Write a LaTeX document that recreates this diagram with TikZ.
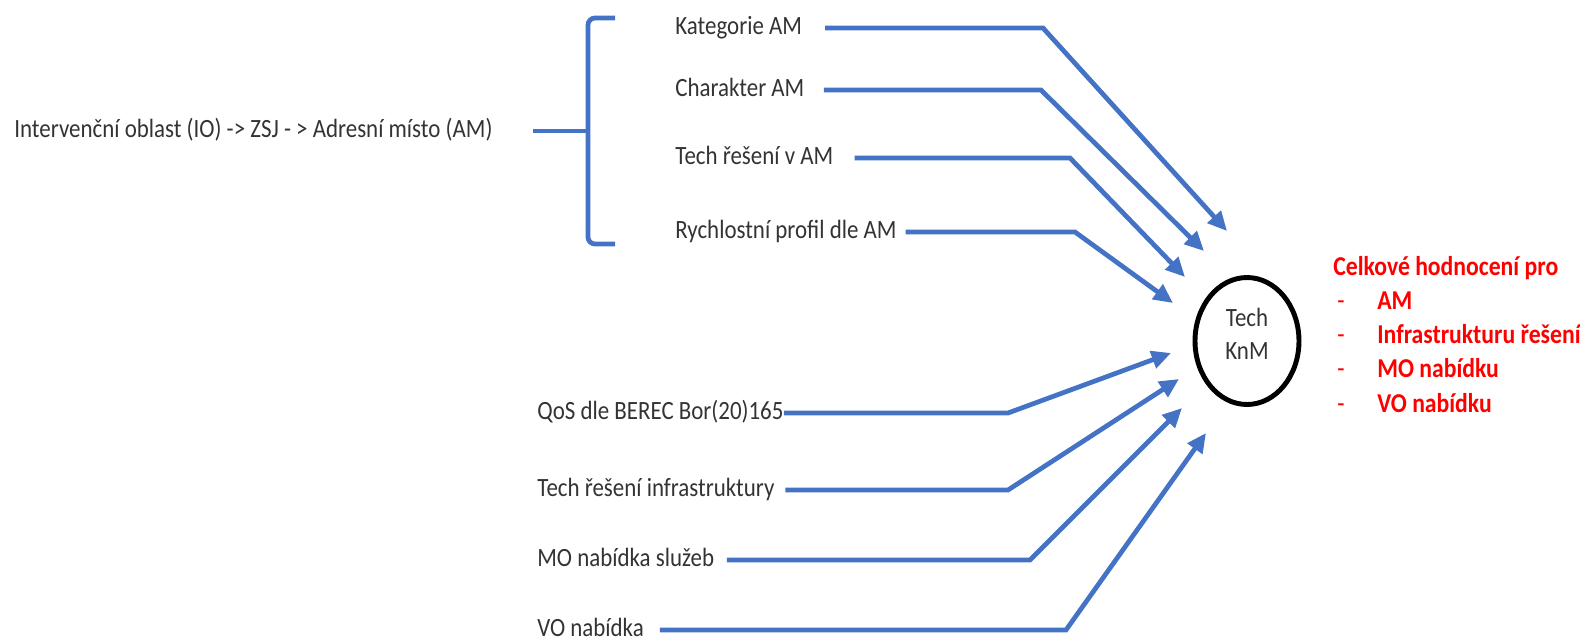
\documentclass[tikz,border=0pt]{standalone}
\usepackage{fontspec}
\setmainfont{Carlito}[FakeStretch=0.87]
\usetikzlibrary{arrows.meta,shapes.geometric}

\definecolor{feedblue}{RGB}{68,114,196}
\definecolor{notered}{RGB}{255,0,0}

\tikzset{
  lbl/.style={anchor=west,inner sep=0pt,text height=10.5pt,text depth=3pt,
    font=\fontsize{15}{17}\selectfont,text=black!80},
  feed/.style={draw=feedblue,line width=2.7pt,-{Triangle[length=11pt,width=10pt]}},
  brc/.style={draw=feedblue,line width=2.7pt,rounded corners=4pt},
  res/.style={anchor=west,inner sep=0pt,text height=10.5pt,text depth=3pt,
    text=notered,font=\bfseries\fontsize{15.5}{17}\selectfont},
  bullet/.style={res,font=\fontsize{15.5}{17}\selectfont}
}

\begin{document}
\begin{tikzpicture}[x=0.02cm,y=-0.02cm]
	\useasboundingbox (0,0) rectangle (1580,640);

	% left side
	\node[lbl] (intro) at (14,131) {Intervenční oblast (IO) -> ZSJ - > Adresní místo (AM)};
	\coordinate (bmid) at (588,131);
	\draw[brc] ([xshift=23pt]intro.east) -- (intro.east -| bmid);
	\draw[brc] (615,18) -- (588,18) -- (588,244) -- (615,244);

	% inputs of the address point
	\node[lbl] (kat) at (675,28) {Kategorie AM};
	\node[lbl] (char) at (675,90) {Charakter AM};
	\node[lbl] (tam) at (675,158) {Tech řešení v AM};
	\node[lbl] (rp) at (675,232) {Rychlostní profil dle AM};

	% other inputs
	\node[lbl] (qos) at (537,413) {QoS dle BEREC Bor(20)165};
	\node[lbl] (tinf) at (537,490) {Tech řešení infrastruktury};
	\node[lbl] (mo) at (537,560) {MO nabídka služeb};
	\node[lbl] (vo) at (537,630) {VO nabídka};

	% the model
	\node[draw,ellipse,line width=2.8pt,minimum width=2.08cm,minimum height=2.54cm,
		align=center,font=\fontsize{15}{19}\selectfont,text=black!80] (knm) at (1247,341)
		{Tech\\KnM\rule[-8pt]{0pt}{0pt}};

	% bends and tips
	\coordinate (b1) at (1043,0); \coordinate (t1) at (1227,231);
	\coordinate (b2) at (1041,0); \coordinate (t2) at (1204,251);
	\coordinate (b3) at (1070,0); \coordinate (t3) at (1185,277);
	\coordinate (b4) at (1075,0); \coordinate (t4) at (1173,303);
	\coordinate (b5) at (1008,0); \coordinate (t5) at (1171,353);
	\coordinate (b6) at (1008,0); \coordinate (t6) at (1179,379);
	\coordinate (b7) at (1030,0); \coordinate (t7) at (1182,408);
	\coordinate (b8) at (1066,0); \coordinate (t8) at (1206,433);

	\draw[feed] ([xshift=13pt]kat.east) -- (kat.east -| b1) -- (t1);
	\draw[feed] ([xshift=11pt]char.east) -- (char.east -| b2) -- (t2);
	\draw[feed] ([xshift=12pt]tam.east) -- (tam.east -| b3) -- (t3);
	\draw[feed] ([xshift=5pt]rp.east) -- (rp.east -| b4) -- (t4);
	\draw[feed] (qos.east) -- (qos.east -| b5) -- (t5);
	\draw[feed] ([xshift=6pt]tinf.east) -- (tinf.east -| b6) -- (t6);
	\draw[feed] ([xshift=7pt]mo.east) -- (mo.east -| b7) -- (t7);
	\draw[feed] ([xshift=9pt]vo.east) -- (vo.east -| b8) -- (t8);

	% result
	\node[res] (celk) at (1333,269) {Celkové hodnocení pro};
	\node[bullet] (d1) at (1337,303) {-};
	\node[bullet] (d2) at (1337,337) {-};
	\node[bullet] (d3) at (1337,371) {-};
	\node[bullet] (d4) at (1337,406) {-};
	\node[res] (r1) at (1377,303) {AM};
	\node[res] (r2) at (1377,337) {Infrastrukturu řešení};
	\node[res] (r3) at (1377,371) {MO nabídku};
	\node[res] (r4) at (1377,406) {VO nabídku};
\end{tikzpicture}
\end{document}
